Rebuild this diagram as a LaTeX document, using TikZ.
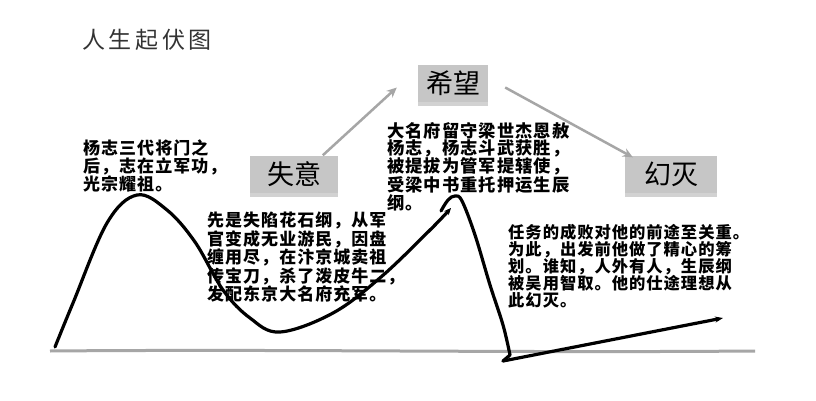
\documentclass[tikz,border=0pt]{standalone}
\usepackage{fontspec}
\newfontfamily\cjk{Noto Sans CJK SC}
\newfontfamily\cjkbody[LetterSpace=6]{Noto Sans CJK SC}
\newfontfamily\cjktitle[LetterSpace=16]{Noto Sans CJK SC}
\usepackage{tikz}
\usetikzlibrary{shapes, arrows, positioning, shadows, calc, arrows.meta}

\begin{document}
\begin{tikzpicture}[x=1pt, y=-1pt,
        stage/.style={fill=gray!45, minimum height=37pt, inner sep=0pt, font=\cjk\fontsize{27}{27}\selectfont,
            drop shadow={shadow xshift=0pt, shadow yshift=-4pt, fill=gray!35, opacity=1}},
        flow/.style={-{Stealth[length=10pt, width=9pt]}, line width=2.5pt, draw=gray!70, color=gray!70},
        story/.style={anchor=north west, inner sep=0pt, align=left},
        life/.style={line width=3.2pt, line cap=round, line join=round}]
        \path[fill=white] (0,0) rectangle (816,401);
        \useasboundingbox (0,0) rectangle (816,401);

        % Nodes
        \node[anchor=west, inner sep=0pt, text=black!80, font=\cjktitle\fontsize{23}{23}\selectfont] (title) at (82,40) {人生起伏图};
        \node[stage, minimum width=88pt] (shiyi) at (294,174) {失意};
        \node[stage, minimum width=70pt] (xiwang) at (453,83.5) {希望};
        \node[stage, minimum width=92pt] (huanmie) at (671,174) {幻灭};

        % Arrows
        \draw[flow] (shiyi.33) -- ($(xiwang.west)+(-21,4)$);
        \draw[flow] ($(xiwang.east)+(17,4)$) -- ($(huanmie.north west)+(8,2)$);

        % Annotations
        \node[story, font=\cjkbody\bfseries\fontsize{17}{18.3}\selectfont] (youth) at (83,139) {杨志三代将门之\\后，志在立军功，\\光宗耀祖。};
        \node[story, font=\cjkbody\bfseries\fontsize{17}{16.8}\selectfont] (fall) at (207,212) {先是失陷花石纲，从军\\官变成无业游民，因盘\\缠用尽，在汴京城卖祖\\传宝刀，杀了泼皮牛二，\\发配东京大名府充军。};
        \node[story, font=\cjkbody\bfseries\fontsize{17.3}{16.8}\selectfont] (rise) at (387,122) {大名府留守梁世杰恩赦\\杨志，杨志斗武获胜，\\被提拔为管军提辖使，\\受梁中书重托押运生辰\\纲。};
        \node[story, font=\cjkbody\bfseries\fontsize{16.3}{17}\selectfont] (loss) at (508,224) {任务的成败对他的前途至关重。\\为此，出发前他做了精心的筹\\划。谁知，人外有人，生辰纲\\被吴用智取。他的仕途理想从\\此幻灭。};

        % Life curve
        \draw[line width=3pt, gray!70] (50,351) .. controls (300,349) and (500,353) .. (755,351);
        \draw[life, -{Stealth[length=7pt, width=6pt]}] plot[smooth, tension=0.6] coordinates {(55,347) (73,303) (107,223) (137,195) (167,210) (195,242) (223,290) (250,318) (280,332) (333,313) (381,277) (430,230) (451,208)};
        \draw[life] plot[smooth, tension=0.6] coordinates {(441,211) (448,200) (455,196) (462,201) (475,235) (490,285) (503,325) (510,355)} -- (503,361);
        \draw[life, -{Stealth[length=8pt, width=6pt]}] (503,361) -- (723,318);
    \end{tikzpicture}
\end{document}
